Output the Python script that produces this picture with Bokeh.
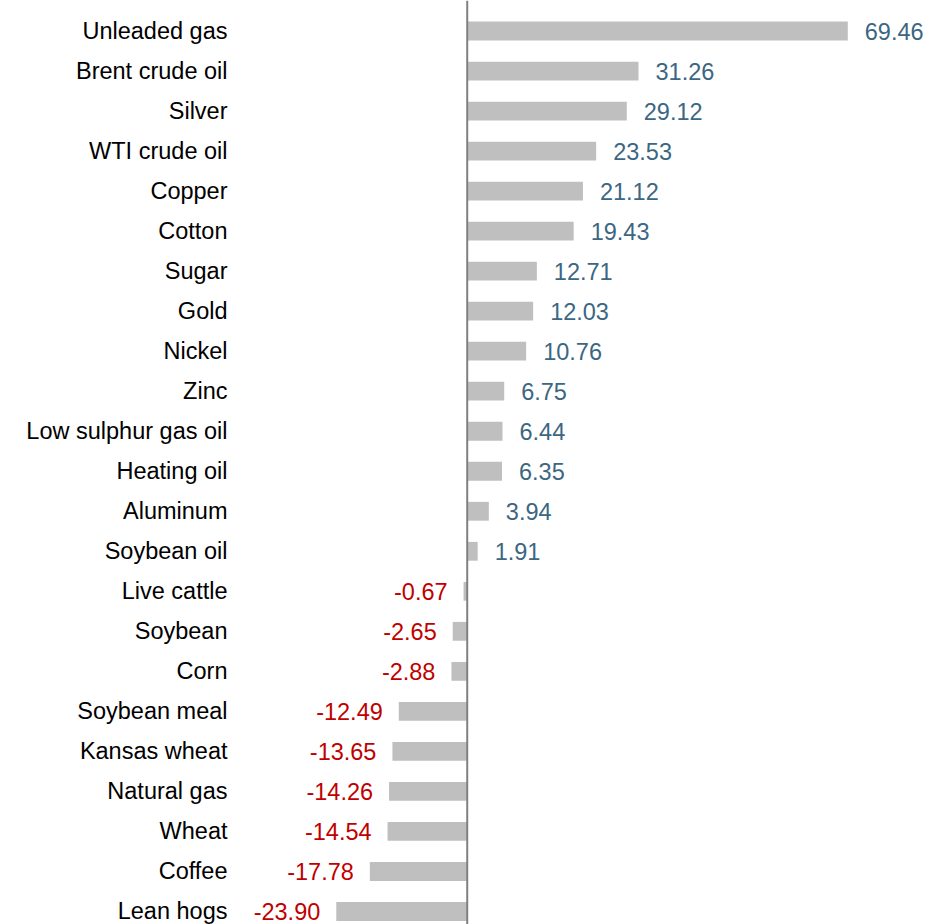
from bokeh.plotting import figure
from bokeh.models import Range1d, FixedTicker, Span, ColumnDataSource
from bokeh.core.properties import value
from bokeh.embed import file_html
from bokeh.resources import INLINE

categories = ["Unleaded gas", "Brent crude oil", "Silver", "WTI crude oil", "Copper",
              "Cotton", "Sugar", "Gold", "Nickel", "Zinc", "Low sulphur gas oil",
              "Heating oil", "Aluminum", "Soybean oil", "Live cattle", "Soybean",
              "Corn", "Soybean meal", "Kansas wheat", "Natural gas", "Wheat",
              "Coffee", "Lean hogs"]
values = [69.46, 31.26, 29.12, 23.53, 21.12, 19.43, 12.71, 12.03, 10.76, 6.75, 6.44,
          6.35, 3.94, 1.91, -0.67, -2.65, -2.88, -12.49, -13.65, -14.26, -14.54,
          -17.78, -23.90]

FONT = "Liberation Sans"
FSIZE = "23.5px"
pos_color = "#3c6682"
neg_color = "#c00000"

idx = list(range(len(categories)))
src = ColumnDataSource(dict(y=idx, v=values))
pos = ColumnDataSource(dict(
    y=[i for i, v in zip(idx, values) if v >= 0],
    v=[v for v in values if v >= 0],
    lbl=["%.2f" % v for v in values if v >= 0],
))
neg = ColumnDataSource(dict(
    y=[i for i, v in zip(idx, values) if v < 0],
    v=[v for v in values if v < 0],
    lbl=["%.2f" % v for v in values if v < 0],
))

p = figure(width=944, height=924, output_backend="svg", toolbar_location=None,
           x_range=Range1d(-41.38, 87.11), y_range=Range1d(22.325, -0.7625),
           min_border_left=240, min_border_right=0, min_border_top=0,
           min_border_bottom=0)
p.outline_line_color = None
p.grid.grid_line_color = None
p.xaxis.visible = False

p.hbar(y="y", left=0, right="v", height=0.47, source=src,
       fill_color="#bfbfbf", line_color=None)

p.add_layout(Span(location=0, dimension="height", line_color="#808080", line_width=2))

p.text(x="v", y="y", text="lbl", source=pos, x_offset=17, text_align="left",
       text_baseline="middle", text_font=value(FONT), text_font_size=FSIZE,
       text_color=pos_color)
p.text(x="v", y="y", text="lbl", source=neg, x_offset=-16, text_align="right",
       text_baseline="middle", text_font=value(FONT), text_font_size=FSIZE,
       text_color=neg_color)

yax = p.yaxis[0]
yax.ticker = FixedTicker(ticks=idx)
yax.major_label_overrides = {i: c for i, c in zip(idx, categories)}
yax.major_label_text_font = FONT
yax.major_label_text_font_size = FSIZE
yax.major_label_text_color = "#000000"
yax.major_tick_line_color = None
yax.minor_tick_line_color = None
yax.axis_line_color = None
yax.major_tick_out = 0
yax.major_tick_in = 0
yax.major_label_standoff = 13

open("out.html", "w").write(file_html(p, INLINE))
